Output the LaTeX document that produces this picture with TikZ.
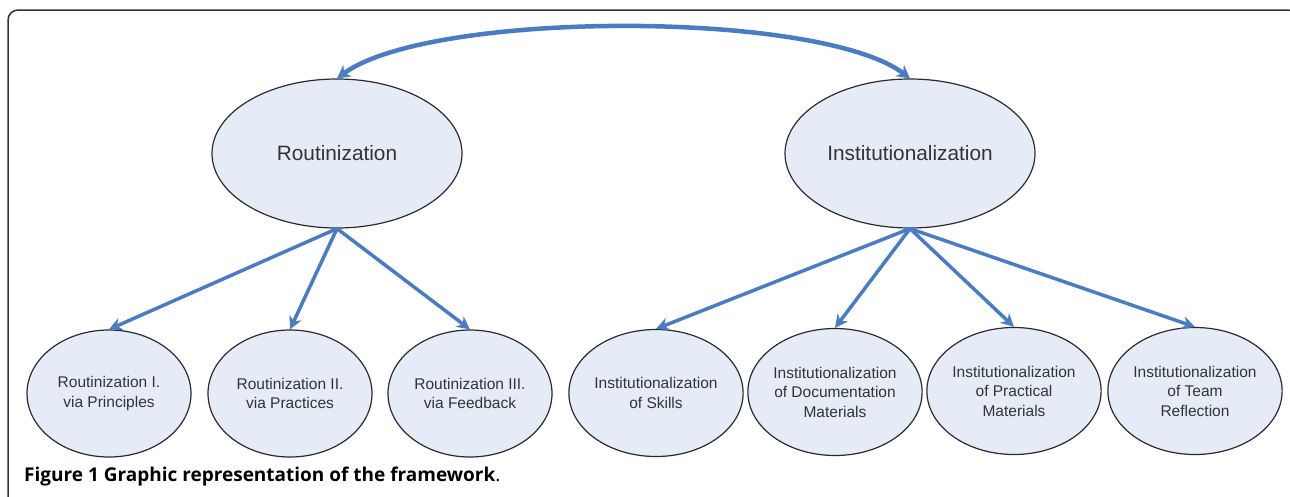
\documentclass[tikz,border=0pt]{standalone}
\usepackage{fontspec}
\setmainfont{Liberation Sans}
\newfontfamily\capfont{Open Sans}
\usetikzlibrary{shapes.geometric,arrows.meta}
\definecolor{linkblue}{HTML}{4A7CC4}
\definecolor{ovalfill}{HTML}{E6ECF7}
\definecolor{ovaledge}{HTML}{2B2B2B}
\definecolor{frameline}{HTML}{333333}
\begin{document}
\begin{tikzpicture}[x=1pt,y=-1pt,
  oval/.style={ellipse, draw=ovaledge, line width=1.2pt, fill=ovalfill,
    inner sep=0pt, align=center, text=black!80},
  bigoval/.style={oval, minimum width=250pt, minimum height=149pt,
    font=\fontsize{20.8}{25}\selectfont},
  smalloval/.style={oval, minimum width=164pt, minimum height=127pt,
    font=\fontsize{15.5}{19.5}\selectfont},
  link/.style={draw=linkblue, line width=3.5pt,
    -{Stealth[length=13pt,width=13pt]}},
  toplink/.style={draw=linkblue, line width=4.5pt,
    {Stealth[length=13pt,width=14pt]}-{Stealth[length=13pt,width=14pt]}},
]
\useasboundingbox (0,0) rectangle (1290,496);
\begin{scope}
  \clip (0,0) rectangle (1290,496);
  \draw[frameline, line width=1.5pt, rounded corners=10pt] (8,10) rectangle (1298,530);
\end{scope}

% upper level
\node[bigoval] (rout) at (337,153.5) {Routinization};
\node[bigoval] (inst) at (910,153.5) {Institutionalization};

% lower level: routinization
\node[smalloval] (r1) at (109,393.5) {Routinization I.\\via Principles};
\node[smalloval] (r2) at (290,393.5) {Routinization II.\\via Practices};
\node[smalloval] (r3) at (470,393.5) {Routinization III.\\via Feedback};

% lower level: institutionalization
\node[smalloval] (i1) at (656,393) {Institutionalization\\of Skills};
\node[smalloval] (i2) at (835,392) {Institutionalization\\of Documentation\\Materials};
\node[smalloval] (i3) at (1014,391) {Institutionalization\\of Practical\\Materials};
\node[smalloval] (i4) at (1195,391) {Institutionalization\\of Team\\Reflection};

% connectors
\draw[toplink] (rout.north) .. controls (430,10) and (820,10) .. (inst.north);
\foreach \c in {r1,r2,r3} \draw[link] (rout.south) -- (\c.north);
\foreach \c in {i1,i2,i3,i4} \draw[link] (inst.south) -- (\c.north);

% caption
\node[anchor=west, inner sep=0pt, font=\capfont\fontsize{19}{23}\selectfont]
  (cap) at (24,477) {\textbf{Figure 1 Graphic representation of the framework}.};
\end{tikzpicture}
\end{document}
